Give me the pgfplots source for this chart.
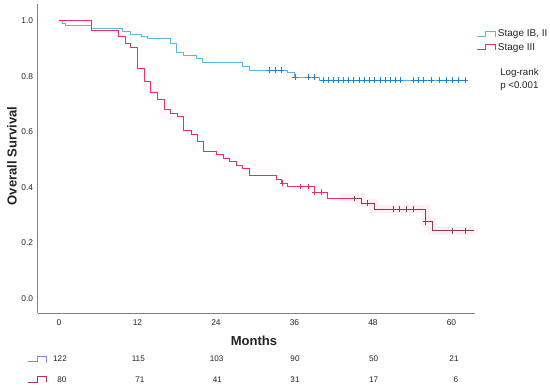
\documentclass[border=0pt]{standalone}
\usepackage{pgfplots}
\pgfplotsset{compat=1.18}
\usepackage{fontspec}
\setmainfont{Liberation Sans}
\definecolor{kmblue}{RGB}{95,182,224}
\definecolor{kmbluemark}{RGB}{35,130,205}
\definecolor{kmred}{RGB}{240,45,95}
\definecolor{kmdark}{RGB}{135,65,75}
\definecolor{kmband}{RGB}{255,238,246}
\definecolor{axgray}{RGB}{128,128,128}
\definecolor{txt}{RGB}{35,35,35}
\definecolor{riskblue}{RGB}{130,135,215}
\definecolor{riskred}{RGB}{190,45,80}
\begin{document}
\begin{tikzpicture}
\path[use as bounding box] (0,0) rectangle (412.5pt,-290.25pt);
\begin{axis}[
  at={(28.275pt,-234.975pt)}, anchor=south west,
  scale only axis, width=327.98pt, height=231.98pt,
  xmin=-3.25, xmax=63.6, ymin=-0.054, ymax=1.061,
  axis lines=left, axis line style={-, draw=axgray, line width=0.8pt},
  xtick={0,12,24,36,48,60}, ytick={0,0.2,0.4,0.6,0.8,1.0},
  major tick length=0pt,
  /pgf/number format/assume math mode=true,
  tick label style={font=\fontsize{6.3}{7}\selectfont, text=txt},
  yticklabel={\pgfmathprintnumber[fixed,fixed zerofill,precision=1]{\tick}},
  yticklabel style={anchor=east, inner sep=0pt, xshift=-3.3pt},
  xticklabel style={anchor=center, inner sep=0pt, yshift=-7pt},
  clip=false,
]
% pink band behind late Stage III curve
\addplot[kmband, line width=6pt, const plot] coordinates {
 (43.0,0.360) (46.2,0.343) (48.2,0.322) (56.1,0.276) (57.1,0.243) (63.5,0.243)};
% Stage IB, II
\addplot[kmblue, line width=0.75pt, const plot] coordinates {
 (0,1.0) (0.5,0.992) (1.0,0.982) (5.0,0.973) (9.7,0.963) (11.0,0.952)
 (12.6,0.945) (13.6,0.937) (17.0,0.918) (18.0,0.887) (19.0,0.876)
 (21.0,0.866) (22.0,0.851) (28.0,0.835) (29.2,0.823) (35.0,0.815)
 (36.0,0.797) (39.8,0.787) (62.4,0.787)};
\addplot[only marks, mark=+, mark size=2.2pt, kmbluemark, mark options={line width=0.75pt}] coordinates {
 (32.2,0.823) (33.1,0.823) (34.0,0.823)
 (36.1,0.797) (38.1,0.797) (39.1,0.797)
 (40.4,0.787) (41.2,0.787) (42.0,0.787) (42.8,0.787) (43.5,0.787) (44.3,0.787)
 (45.1,0.787) (45.9,0.787) (46.7,0.787) (47.5,0.787) (48.3,0.787) (49.1,0.787)
 (49.9,0.787) (50.7,0.787) (51.5,0.787) (52.2,0.787) (54.2,0.787) (55.0,0.787)
 (55.8,0.787) (56.9,0.787) (58.2,0.787) (59.2,0.787) (60.2,0.787) (61.1,0.787)
 (62.1,0.787)};
% Stage III
\addplot[kmred, line width=0.75pt, const plot] coordinates {
 (0,1.0) (5.0,0.967) (9.1,0.943) (10.1,0.920) (11.0,0.904) (12.0,0.829)
 (13.0,0.781) (14.0,0.741) (15.1,0.718) (16.1,0.682) (17.1,0.667)
 (18.1,0.655) (19.1,0.604) (20.2,0.589) (21.2,0.565) (22.1,0.529)
 (24.1,0.517) (25.1,0.505) (26.1,0.492) (27.1,0.480) (28.1,0.468)
 (29.2,0.442) (33.2,0.429) (34.0,0.415) (35.0,0.403) (39.0,0.383)
 (41.1,0.360) (45.2,0.360)};
\addplot[kmdark, line width=0.75pt, const plot] coordinates {
 (45.2,0.360) (46.2,0.343) (48.2,0.322) (56.1,0.276) (57.1,0.243) (63.5,0.243)};
\addplot[only marks, mark=+, mark size=2.2pt, kmred, mark options={line width=0.75pt}] coordinates {
 (34.2,0.415) (37.0,0.403) (38.1,0.403) (39.1,0.383) (40.1,0.383)};
\addplot[only marks, mark=+, mark size=2.2pt, kmdark, mark options={line width=0.75pt}] coordinates {
 (45.2,0.360) (47.2,0.343) (51.1,0.322) (52.1,0.322) (53.1,0.322) (54.2,0.322)
 (56.1,0.276) (60.2,0.243) (62.1,0.243)};
\end{axis}
\begin{scope}[x=0.75pt, y=-0.75pt]
\node[font=\bfseries\fontsize{9.8}{11}\selectfont, rotate=90, text=txt] at (12,156) {Overall Survival};
\node[font=\bfseries\fontsize{9.8}{11}\selectfont, text=txt] at (254,341) {Months};
% legend
\draw[kmblue, line width=0.75pt] (476.7,36.3) -- (485,36.3) -- (485,31.7) -- (495,31.7) -- (495,36.7);
\node[anchor=west, inner sep=0pt, font=\fontsize{7.5}{9}\selectfont, text=txt] at (497.7,34.5) {Stage IB, II};
\draw[kmred, line width=0.75pt] (476.7,49.3) -- (485,49.3) -- (485,44.7) -- (495,44.7) -- (495,50);
\node[anchor=west, inner sep=0pt, font=\fontsize{7.5}{9}\selectfont, text=txt] at (497.7,47.8) {Stage III};
\node[anchor=west, inner sep=0pt, font=\fontsize{7.3}{9}\selectfont, text=txt] at (500,73.3) {Log-rank};
\node[anchor=west, inner sep=0pt, font=\fontsize{7.3}{9}\selectfont, text=txt] at (500,86) {p <0.001};
% numbers at risk
\draw[riskblue, line width=0.75pt] (28.3,361.7) -- (37.3,361.7) -- (37.3,356.7) -- (46.7,356.7) -- (46.7,362.7);
\draw[riskred, line width=0.75pt] (28.3,382.3) -- (37.3,382.3) -- (37.3,376.7) -- (46,376.7) -- (46,382.3);
\begin{scope}[every node/.style={font=\fontsize{6.1}{7}\selectfont, text=txt, inner sep=0pt}]
\node at (60,359) {122};
\node at (138.3,359) {115};
\node at (216.7,359) {103};
\node at (295,359) {90};
\node at (373.7,359) {50};
\node at (454,359) {21};
\node at (62,380) {80};
\node at (140,380) {71};
\node at (217.3,380) {41};
\node at (295,380) {31};
\node at (373.7,380) {17};
\node at (456,380) {6};
\end{scope}
\end{scope}
\end{tikzpicture}
\end{document}
